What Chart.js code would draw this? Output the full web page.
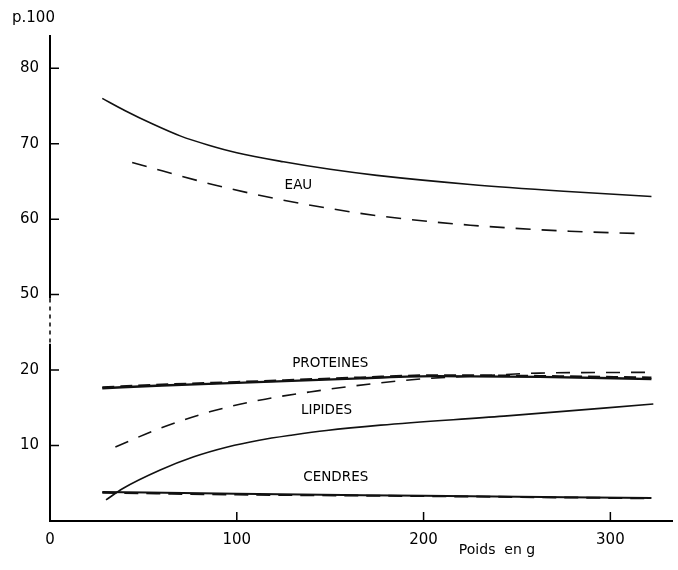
<!DOCTYPE html>
<html>
<head>
<meta charset="utf-8">
<script src="https://cdn.jsdelivr.net/npm/chart.js@4"></script>
<style>
  html, body { margin: 0; padding: 0; background: #fff; }
</style>
</head>
<body>
<canvas id="myChart" width="678" height="570"></canvas>
<script>
// valeurs (p.100 en fonction du poids en g)
const xTicks = [0, 100, 200, 300];
const yTickValues = [10, 20, 50, 60, 70, 80];

const poidsEauPlein = [28, 40, 55, 70, 85, 100, 125, 150, 175, 225, 275, 322];
const eauPlein = [76.0, 74.4, 72.6, 71.0, 69.8, 68.8, 67.6, 66.6, 65.8, 64.6, 63.7, 63.0];
const poidsEauTirets = [44, 60, 87, 123, 150, 177, 225, 278, 314];
const eauTirets = [67.5, 66.4, 64.6, 62.6, 61.4, 60.4, 59.2, 58.4, 58.1];

const poidsProt = [28, 60, 100, 166, 207, 262, 322];
const protPlein = [17.6, 17.95, 18.3, 18.9, 19.2, 19.1, 18.8];
const protTirets = [17.7, 18.05, 18.4, 19.0, 19.3, 19.2, 19.0];

const poidsLipPlein = [30, 39, 59, 77, 95, 112, 130, 148, 177, 243, 323];
const lipPlein = [2.8, 4.3, 6.75, 8.5, 9.8, 10.7, 11.4, 12.0, 12.7, 13.9, 15.5];
const poidsLipTirets = [35, 59, 86, 112, 139, 173, 203, 236, 262, 322];
const lipTirets = [9.8, 12.3, 14.5, 16.0, 17.1, 18.2, 18.9, 19.3, 19.6, 19.7];

const poidsCendres = [28, 100, 200, 322];
const cendresPlein = [3.85, 3.6, 3.35, 3.05];
const cendresTirets = [3.75, 3.5, 3.3, 3.0];

// etiquettes des courbes : [texte, poids, p.100]
const etiquettes = [
  ['EAU', 133, 64.4],
  ['PROTEINES', 150, 20.9],
  ['LIPIDES', 148, 14.6],
  ['CENDRES', 153, 5.7]
];

// l'axe des ordonnees est coupe entre 20 et 50
function toPlot(v){
  return v >= 40 ? v - 20 : v;
}
function fromPlot(p){
  return p > 25 ? p + 20 : p;
}

function serie(xs, ys){
  let pts = [];
  for(let i in xs){
    pts.push({x: xs[i], y: toPlot(ys[i])});
  }
  return pts;
}

function ligne(xs, ys, dash, width){
  return {
    data: serie(xs, ys),
    borderColor: '#111',
    borderWidth: width,
    borderDash: dash,
    pointRadius: 0,
    fill: false,
    tension: 0.4,
    cubicInterpolationMode: 'monotone'
  };
}

const FONT = 'DejaVu Sans';

let axesPlugin = {
  id: 'axesPlugin',
  afterDraw(chart){
    let ctx = chart.ctx;
    let xs = chart.scales.x;
    let ys = chart.scales.y;
    let area = chart.chartArea;
    let x0 = xs.getPixelForValue(0);
    ctx.save();
    ctx.strokeStyle = '#000';
    ctx.lineWidth = 2;
    // axe y en trois morceaux (coupure en tirets)
    let yBreakTop = ys.getPixelForValue(29.5);
    let yBreakBot = ys.getPixelForValue(23.5);
    ctx.beginPath();
    ctx.moveTo(x0, area.top);
    ctx.lineTo(x0, yBreakTop);
    ctx.moveTo(x0, yBreakBot);
    ctx.lineTo(x0, area.bottom);
    ctx.stroke();
    ctx.lineWidth = 1.5;
    ctx.setLineDash([4, 4]);
    ctx.beginPath();
    ctx.moveTo(x0, yBreakTop);
    ctx.lineTo(x0, yBreakBot);
    ctx.stroke();
    ctx.setLineDash([]);
    // graduations vers l'interieur
    ctx.lineWidth = 1.5;
    ctx.beginPath();
    for(let t of ys.ticks){
      let y = ys.getPixelForValue(t.value);
      ctx.moveTo(x0, y);
      ctx.lineTo(x0 + 9, y);
    }
    for(let t of xs.ticks){
      if(t.value === 0) continue;
      let x = xs.getPixelForValue(t.value);
      ctx.moveTo(x, area.bottom);
      ctx.lineTo(x, area.bottom - 9);
    }
    ctx.stroke();
    // textes
    ctx.fillStyle = '#000';
    ctx.textBaseline = 'middle';
    ctx.textAlign = 'center';
    ctx.font = '13.5px "' + FONT + '"';
    for(let e of etiquettes){
      ctx.fillText(e[0], xs.getPixelForValue(e[1]), ys.getPixelForValue(toPlot(e[2])));
    }
    ctx.font = '14px "' + FONT + '"';
    ctx.fillText('Poids  en g', 497, 550);
    ctx.textAlign = 'left';
    ctx.font = '15px "' + FONT + '"';
    ctx.fillText('p.100', 12, 18);
    ctx.restore();
  }
};

let canvas = document.getElementById('myChart');
let myChart = new Chart(canvas, {
  type: 'line',
  data: {
    datasets: [
      ligne(poidsEauPlein, eauPlein, [], 1.6),
      ligne(poidsEauTirets, eauTirets, [15, 11], 1.6),
      ligne(poidsProt, protPlein, [], 2.4),
      ligne(poidsProt, protTirets, [12, 6], 2.4),
      ligne(poidsLipPlein, lipPlein, [], 1.6),
      ligne(poidsLipTirets, lipTirets, [14, 11], 1.6),
      ligne(poidsCendres, cendresPlein, [], 2),
      ligne(poidsCendres, cendresTirets, [14, 8], 2)
    ]
  },
  options: {
    responsive: false,
    animation: false,
    devicePixelRatio: 1,
    layout: {padding: {top: 35, right: 6, left: 0, bottom: 0}},
    plugins: {legend: {display: false}, tooltip: {enabled: false}},
    scales: {
      x: {
        type: 'linear',
        min: 0,
        max: 333,
        afterFit: function(s){ s.height = 49; },
        afterBuildTicks: function(s){ s.ticks = xTicks.map(v => ({value: v})); },
        grid: {display: false, drawTicks: false},
        border: {display: true, color: '#000', width: 2},
        ticks: {color: '#000', padding: 10, maxRotation: 0, font: {family: FONT, size: 15}}
      },
      y: {
        type: 'linear',
        min: 0,
        max: 64.4,
        afterFit: function(s){ s.width = 50; },
        afterBuildTicks: function(s){ s.ticks = yTickValues.map(v => ({value: toPlot(v)})); },
        grid: {display: false, drawTicks: false},
        border: {display: false},
        ticks: {
          color: '#000',
          padding: 11,
          font: {family: FONT, size: 15},
          callback: function(v){ return String(fromPlot(v)); }
        }
      }
    }
  },
  plugins: [axesPlugin]
});
</script>
</body>
</html>
